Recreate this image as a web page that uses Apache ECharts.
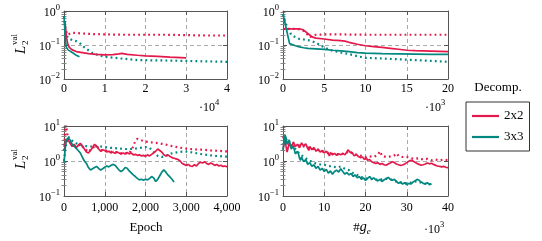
<!DOCTYPE html>
<html><head><meta charset="utf-8">
<script src="https://cdn.jsdelivr.net/npm/echarts@6/dist/echarts.min.js"></script>
<style>html,body{margin:0;padding:0;background:#fff}#c{width:542px;height:241px}</style>
</head><body><div id="c"></div>
<script>
const RED = '#e4194b', TEAL = '#00877f';
const FONT = "'Liberation Serif', 'DejaVu Serif', serif";
const FRAME = '#555';

// sampling grids for x (positions only)
function steps(a, b, s) { const r = []; for (let v = a; v <= b + 1e-9; v += s) r.push(+v.toFixed(4)); return r; }
// interleave readings taken on a grid with readings taken between grid points
function interleave(a, b) { const r = []; a.forEach((v, i) => { r.push(v); if (i < b.length) r.push(b[i]); }); return r; }

// ---- Panel A (top-left), x in 10^4 epochs ----
const A_X_2s = [0.02,0.04,0.06,0.09,0.13,0.2,0.3,0.45,0.6,0.8,1.0,1.2,1.35,1.42,1.55,1.8,2.0,2.3,2.6,3.0];
const A_Y_2s = [0.5,0.3,0.17,0.11,0.085,0.072,0.064,0.06,0.056,0.053,0.051,0.052,0.055,0.057,0.053,0.05,0.048,0.046,0.044,0.042];
const A_X_2d = [0.02,0.05,0.08,0.12,0.2,0.4,0.7,1.0,1.5,2.0,2.5,3.0,3.5,4.0];
const A_Y_2d = [0.35,0.26,0.2,0.22,0.23,0.22,0.21,0.205,0.2,0.2,0.2,0.195,0.19,0.19];
const A_X_3s = [0,0.02,0.04,0.06,0.1,0.15,0.2,0.25,0.3,0.38];
const A_Y_3s = [0.7,0.3,0.12,0.085,0.072,0.066,0.06,0.055,0.05,0.045];
const A_X_3d = [0,0.03,0.06,0.1,0.2,0.3,0.4,0.5,0.6,0.7,0.85,1.0,1.4,1.8,2.5,3.0,3.5,4.0];
const A_Y_3d = [0.7,0.35,0.2,0.16,0.14,0.13,0.11,0.085,0.07,0.058,0.05,0.045,0.04,0.036,0.035,0.034,0.033,0.032];

// ---- Panel B (top-right), x in 10^3 ----
const B_X_2s = [0,0.5,1,1.5,2,2.4,2.8,3.2,3.6,4,5,6,7,7.5,8,9,10,11,12,13,14,15,16,17,18,19,20];
const B_Y_2s = [0.3,0.3,0.3,0.3,0.3,0.28,0.24,0.2,0.17,0.16,0.15,0.14,0.135,0.13,0.12,0.105,0.095,0.09,0.085,0.08,0.075,0.07,0.068,0.067,0.066,0.065,0.064];
const B_X_2d = [0,1,2,2.5,3,3.3,3.6,4,5,7,10,13,16,20];
const B_Y_2d = [0.3,0.3,0.29,0.26,0.2,0.17,0.19,0.2,0.205,0.205,0.2,0.2,0.2,0.2];
const B_X_3s = [0,0.2,0.4,0.6,0.8,1,1.5,2,2.5,3,4,5,6,7,8,9,10,12,14,16,18,20];
const B_Y_3s = [0.8,0.5,0.3,0.18,0.11,0.1,0.095,0.088,0.083,0.08,0.077,0.074,0.07,0.067,0.064,0.06,0.058,0.056,0.055,0.054,0.053,0.053];
const B_X_3d = [0,0.3,0.6,1,1.5,2,2.5,3,3.5,4,4.5,5,5.5,6,7,8,9,10,12,14,16,18,20];
const B_Y_3d = [0.8,0.45,0.3,0.2,0.17,0.15,0.145,0.14,0.13,0.115,0.1,0.085,0.075,0.068,0.06,0.054,0.047,0.042,0.04,0.038,0.036,0.034,0.032];

// ---- Panel C (bottom-left), x in epochs ----
const C_X_2s = steps(0, 4000, 50);
const C_Y_2s = [2.5,3.4,4.0,3.2,2.6,3.0,2.4,2.8,3.2,2.7,
  2.2,1.8,1.7,2.0,2.4,3.0,2.7,2.2,1.9,2.1,
  2.0,1.8,1.9,1.7,1.8,1.65,1.8,1.7,1.6,1.7,
  1.6,1.75,1.6,1.7,1.5,1.55,1.45,1.5,1.4,1.45,
  1.35,1.5,1.4,1.55,1.7,1.9,2.2,2.0,1.8,1.5,
  1.4,1.5,1.35,1.25,1.2,1.15,1.1,1.0,0.85,0.8,
  0.75,0.8,0.72,0.7,0.78,0.72,0.85,0.92,0.88,0.95,
  0.85,0.8,0.88,0.82,0.75,0.8,0.72,0.76,0.7,0.72,0.68];
const C_X_2d = [0,25,50,80,120,200,300,400,500,600,700,800,900,1000,1100,1200,1300,1400,1500,1600,
  1700,1750,1800,1900,2000,2100,2200,2300,2400,2500,2600,2700,2800,2900,3000,3200,3400,3600,3800,4000];
const C_Y_2d = [2.0,6.0,11,6,3.6,3.0,2.5,3.0,2.3,1.8,2.4,2.7,2.0,2.0,1.9,1.8,1.8,1.65,1.65,1.65,
  2.6,3.8,4.3,3.9,3.6,3.45,3.35,3.25,3.1,2.95,2.75,2.6,2.45,2.35,2.25,2.15,2.1,2.0,1.95,1.88];
const C_X_3s = steps(0, 2700, 50);
const C_Y_3s = [0.9,4.0,4.5,4.0,3.0,2.6,2.3,2.0,1.7,1.3,
  1.0,0.85,0.65,0.55,0.6,0.65,0.7,0.62,0.55,0.6,
  0.66,0.72,0.68,0.74,0.8,0.76,0.65,0.55,0.5,0.55,
  0.65,0.62,0.52,0.46,0.4,0.36,0.32,0.29,0.3,0.28,
  0.3,0.29,0.32,0.36,0.33,0.26,0.3,0.38,0.48,0.56,
  0.48,0.4,0.35,0.3,0.25];
const C_X_3d = [0,50].concat(steps(100, 4000, 100));
const C_Y_3d = [1.0,3.0,5.0,3.8,3.2,2.9,2.7,2.6,2.6,2.6,2.6,2.5,
  2.4,2.35,2.3,2.25,2.2,2.2,2.2,2.3,2.4,2.5,
  2.4,1.8,1.4,1.3,1.4,1.6,1.7,1.8,1.85,1.85,
  1.8,1.7,1.65,1.55,1.5,1.45,1.4,1.38,1.35,1.33];

// ---- Panel D (bottom-right), x in 10^3 ----
const D_X_2s = steps(0, 40, 0.25);
const D_Y_2s_grid = [2.2,4.0,1.8,3.2,2.4,3.5,2.6,3.0,2.4,3.3,
  2.7,3.1,2.3,2.6,2.1,2.4,1.9,2.2,1.8,2.0,
  1.7,1.9,1.6,1.75,1.5,1.65,1.45,1.6,1.5,1.65,
  1.5,1.8,2.0,1.7,1.55,1.45,1.5,1.3,1.4,1.2,
  1.15,1.05,1.1,0.95,0.9,0.85,0.9,0.8,0.85,0.78,
  0.76,0.82,0.88,0.95,0.9,0.82,0.78,0.75,0.77,0.82,
  0.9,0.98,1.05,1.0,0.92,0.85,0.8,0.76,0.78,0.82,
  0.88,0.83,0.86,0.8,0.75,0.72,0.7,0.68,0.7,0.66,0.65];
const D_Y_2s_mid = [3.0,2.6,2.0,2.9,2.6,3.6,2.3,3.2,2.2,3.0,
  2.4,2.8,2.0,2.5,1.9,2.3,1.7,2.1,1.6,1.95,
  1.55,1.85,1.4,1.7,1.35,1.6,1.35,1.7,1.4,1.7,
  1.6,2.1,1.8,1.75,1.4,1.55,1.35,1.25,1.3,1.1,
  1.2,0.98,1.05,0.88,0.95,0.8,0.92,0.76,0.86,0.72,
  0.8,0.78,0.98,0.88,0.92,0.76,0.8,0.72,0.8,0.85,
  0.95,0.93,1.1,0.95,0.88,0.8,0.82,0.73,0.81,0.8,
  0.9,0.8,0.88,0.76,0.78,0.69,0.73,0.66,0.72,0.63];
const D_X_2d = [0,1,2,3,4,5,6,7,8,9,10,11,12,13,14,15,16,17,18,19,20,21,22,23,23.5,24,25,26,27,27.6,28,29,30,31,32,33,34,35,36,37,38,39,40];
const D_Y_2d = [5,3,2.8,2.6,2.8,2.6,2.4,2.3,2.1,2.0,1.8,1.7,1.6,1.55,1.6,1.6,1.9,1.6,1.5,1.4,
  1.3,1.35,1.3,1.5,1.9,1.4,1.3,1.35,1.45,1.65,1.4,1.3,1.3,1.2,1.15,1.2,1.1,1.15,1.05,1.1,1.05,1.1,1.05];
const D_X_3s = steps(0, 36, 0.25);
const D_Y_3s_grid = [2.0,5.5,3.0,4.0,2.2,2.6,1.6,1.9,1.2,1.3,
  0.95,1.1,0.8,0.9,0.7,0.78,0.62,0.7,0.55,0.62,
  0.5,0.58,0.45,0.52,0.42,0.5,0.55,0.48,0.6,0.5,
  0.42,0.47,0.4,0.44,0.36,0.4,0.33,0.36,0.3,0.33,
  0.28,0.32,0.36,0.3,0.33,0.29,0.27,0.3,0.26,0.29,
  0.31,0.34,0.3,0.28,0.3,0.26,0.23,0.25,0.22,0.24,
  0.21,0.23,0.22,0.25,0.27,0.3,0.28,0.25,0.23,0.22,
  0.24,0.21,0.22];
const D_Y_3s_mid = [3.5,4.5,2.8,3.0,2.0,2.1,1.5,1.6,1.05,1.15,
  0.88,1.0,0.74,0.85,0.64,0.75,0.58,0.66,0.5,0.6,
  0.46,0.55,0.42,0.5,0.4,0.56,0.52,0.45,0.58,0.47,
  0.39,0.45,0.37,0.42,0.34,0.38,0.31,0.35,0.28,0.31,
  0.26,0.34,0.33,0.28,0.32,0.3,0.25,0.29,0.25,0.28,
  0.3,0.32,0.31,0.26,0.28,0.25,0.22,0.24,0.21,0.23,
  0.2,0.24,0.21,0.24,0.26,0.31,0.27,0.24,0.22,0.21,
  0.23,0.2];
const D_X_3d = steps(0, 36, 1);
const D_Y_3d = [3,4.5,3,2.2,1.6,1.3,1.1,0.95,0.85,0.8,0.78,0.72,0.7,0.65,0.7,0.6,0.55,0.45,0.4,0.35,
  0.32,0.3,0.31,0.29,0.3,0.31,0.3,0.27,0.25,0.24,0.23,0.24,0.26,0.25,0.23,0.22,0.22];

const NAMES = ['2x2', '3x3'];

function zip(xs, ys) { return xs.map((x, i) => [x, ys[i]]); }
function minors(lo, hi) { const r = []; for (let d = lo; d < hi; d *= 10) for (let k = 2; k <= 9; k++) r.push(+(k * d).toPrecision(3)); return r; }

const GRIDS = [
  { left: 64, top: 11, width: 163, height: 68 },
  { left: 283, top: 11, width: 165, height: 68 },
  { left: 64, top: 126, width: 163, height: 70 },
  { left: 283, top: 126, width: 165, height: 70 }
];
const XCFG = [
  { min: 0, max: 4, interval: 1, fmt: v => String(v), margin: 4 },
  { min: 0, max: 20, interval: 5, fmt: v => String(v), margin: 4 },
  { min: 0, max: 4000, interval: 1000, fmt: v => v.toLocaleString('en-US'), margin: 6 },
  { min: 0, max: 40, interval: 10, fmt: v => String(v), margin: 6 }
];
const YCFG = [
  { min: 0.01, max: 1 }, { min: 0.01, max: 1 }, { min: 0.1, max: 10 }, { min: 0.1, max: 10 }
];

function logLabel(v) {
  const e = Math.round(Math.log10(v));
  return '{b|10}{e|' + (e < 0 ? '\u2212' + (-e) : String(e)) + '}';
}
const RICH = {
  b: { fontSize: 12, fontFamily: FONT, color: '#000', verticalAlign: 'bottom', lineHeight: 16 },
  e: { fontSize: 8.5, fontFamily: FONT, color: '#000', verticalAlign: 'top', lineHeight: 10 }
};

const xAxis = [], yAxis = [];
GRIDS.forEach((g, i) => {
  const xc = XCFG[i], yc = YCFG[i];
  xAxis.push({
    type: 'value', gridIndex: i, min: xc.min, max: xc.max, interval: xc.interval, position: 'bottom',
    axisLine: { show: true, onZero: false, lineStyle: { color: FRAME, width: 1 } },
    axisTick: { show: true, inside: true, length: 4, lineStyle: { color: FRAME } },
    axisLabel: { margin: xc.margin, color: '#000', fontFamily: FONT, fontSize: 12, formatter: xc.fmt },
    splitLine: { show: true, lineStyle: { color: '#a0a0a0', type: [4, 3], width: 0.9 } }
  });
  xAxis.push({
    type: 'value', gridIndex: i, min: xc.min, max: xc.max, interval: xc.interval, position: 'top',
    axisLine: { show: true, onZero: false, lineStyle: { color: FRAME, width: 1 } },
    axisTick: { show: true, inside: true, length: 4, lineStyle: { color: FRAME } },
    axisLabel: { show: false }, splitLine: { show: false }
  });
  const mv = minors(yc.min, yc.max);
  ['left', 'right'].forEach(pos => {
    yAxis.push({
      type: 'log', logBase: 10, gridIndex: i, min: yc.min, max: yc.max, position: pos,
      axisLine: { show: true, onZero: false, lineStyle: { color: FRAME, width: 1 } },
      axisTick: { show: true, inside: true, length: 4, lineStyle: { color: FRAME } },
      axisLabel: pos === 'left' ? { show: true, margin: 4, formatter: logLabel, rich: RICH } : { show: false },
      splitLine: pos === 'left' ? { show: true, lineStyle: { color: '#a0a0a0', type: [4, 3], width: 0.9 } } : { show: false }
    });
    yAxis.push({
      type: 'log', logBase: 10, gridIndex: i, min: yc.min, max: yc.max, position: pos,
      axisLine: { show: false },
      axisTick: { show: true, inside: true, length: 2.5, customValues: mv, lineStyle: { color: '#888' } },
      axisLabel: { show: false }, splitLine: { show: false }
    });
  });
});

const PANELS = [
  [[A_X_2s, A_Y_2s], [A_X_2d, A_Y_2d], [A_X_3s, A_Y_3s], [A_X_3d, A_Y_3d]],
  [[B_X_2s, B_Y_2s], [B_X_2d, B_Y_2d], [B_X_3s, B_Y_3s], [B_X_3d, B_Y_3d]],
  [[C_X_2s, C_Y_2s], [C_X_2d, C_Y_2d], [C_X_3s, C_Y_3s], [C_X_3d, C_Y_3d]],
  [[D_X_2s, interleave(D_Y_2s_grid, D_Y_2s_mid)], [D_X_2d, D_Y_2d], [D_X_3s, interleave(D_Y_3s_grid, D_Y_3s_mid)], [D_X_3d, D_Y_3d]]
];
const STY = [
  { name: NAMES[0], color: RED, type: 'solid', z: 4 },
  { name: NAMES[0], color: RED, type: 'dotted', z: 3 },
  { name: NAMES[1], color: TEAL, type: 'solid', z: 4 },
  { name: NAMES[1], color: TEAL, type: 'dotted', z: 3 }
];
const series = [];
PANELS.forEach((p, i) => {
  [0, 2, 1, 3].forEach(k => {
    const s = STY[k];
    series.push({
      type: 'line', name: s.name, xAxisIndex: 2 * i, yAxisIndex: 4 * i,
      data: zip(p[k][0], p[k][1]), symbol: 'none', showSymbol: false, z: s.z,
      lineStyle: { color: s.color, width: s.type === 'solid' ? 1.7 : 2.2, type: s.type === 'solid' ? 'solid' : [1.8, 3.2] },
      itemStyle: { color: s.color }, emphasis: { disabled: true }, clip: true
    });
  });
});

function ylabelGroup(x, y) {
  return {
    type: 'group', x: x, y: y, rotation: Math.PI / 2,
    children: [
      { type: 'text', x: 0, y: 0, style: { text: 'L', font: 'italic 15px ' + FONT, fill: '#000', textAlign: 'left', textVerticalAlign: 'middle' } },
      { type: 'text', x: 9, y: -6, style: { text: 'val', font: '9px ' + FONT, fill: '#000', textAlign: 'left', textVerticalAlign: 'middle' } },
      { type: 'text', x: 9, y: 5, style: { text: '2', font: '9px ' + FONT, fill: '#000', textAlign: 'left', textVerticalAlign: 'middle' } }
    ]
  };
}
function sciText(x, y, exp) {
  return {
    type: 'text', x: x, y: y,
    style: {
      text: '{b|\u00b710}{e|' + exp + '}', textAlign: 'left', textVerticalAlign: 'middle',
      rich: { b: { fontSize: 12, fontFamily: FONT, fill: '#000', verticalAlign: 'bottom', lineHeight: 16 },
              e: { fontSize: 8.5, fontFamily: FONT, fill: '#000', verticalAlign: 'top', lineHeight: 10 } }
    }
  };
}

const option = {
  animation: false,
  grid: GRIDS.map(g => Object.assign({ containLabel: false }, g)),
  xAxis, yAxis, series,
  legend: {
    data: NAMES.map(n => ({ name: n, icon: 'rect' })), left: 466, top: 102, orient: 'vertical', padding: [7, 6, 7, 6], itemGap: 7,
    itemWidth: 27, itemHeight: 2.2, borderColor: '#333', borderWidth: 1, selectedMode: false,
    textStyle: { fontFamily: FONT, fontSize: 13, color: '#000', lineHeight: 14 }
  },
  graphic: [
    ylabelGroup(21, 54), ylabelGroup(21, 169),
    { type: 'text', x: 498, y: 88, style: { text: 'Decomp.', font: '13px ' + FONT, fill: '#000', textAlign: 'center', textVerticalAlign: 'middle' } },
    sciText(199, 106, '4'), sciText(425, 106, '3'), sciText(424, 228, '3'),
    { type: 'text', x: 146, y: 228, style: { text: 'Epoch', font: '13px ' + FONT, fill: '#000', textAlign: 'center', textVerticalAlign: 'middle' } },
    { type: 'text', x: 362, y: 228, style: { text: '#{g|g}{s|e}', font: '13px ' + FONT, fill: '#000', textAlign: 'center', textVerticalAlign: 'middle',
        rich: { g: { fontSize: 14, fontFamily: FONT, fontStyle: 'italic', verticalAlign: 'top', lineHeight: 16 },
                s: { fontSize: 9, fontFamily: FONT, fontStyle: 'italic', verticalAlign: 'bottom', lineHeight: 12 } } } }
  ]
};
const chart = echarts.init(document.getElementById('c'), null, { renderer: 'canvas' });
chart.setOption(option);
</script>
</body></html>
